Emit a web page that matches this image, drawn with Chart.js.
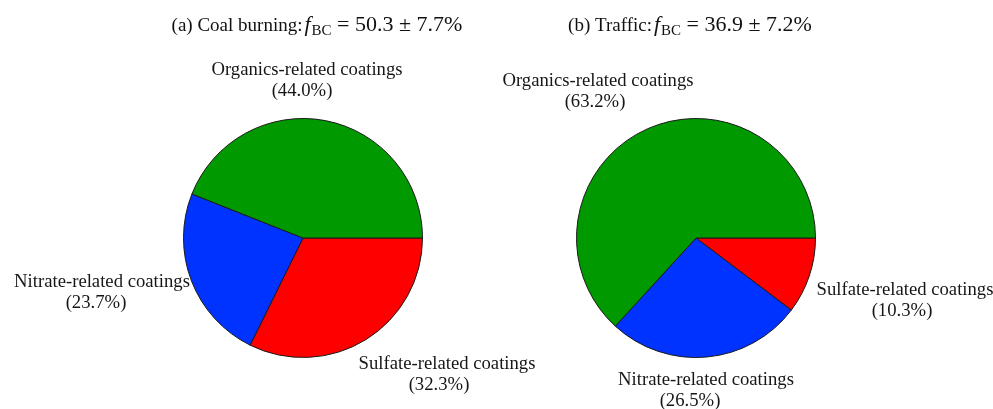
<!DOCTYPE html>
<html>
<head>
<meta charset="utf-8">
<script src="https://cdn.jsdelivr.net/npm/chart.js@4.4.1/dist/chart.umd.min.js"></script>
<style>
  html, body { margin: 0; padding: 0; background: #ffffff; }
  #wrap { position: relative; width: 993px; height: 409px; }
  #wrap canvas { position: absolute; left: 0; top: 0; }
</style>
</head>
<body>
<div id="wrap">
  <canvas id="coal" width="993" height="409"></canvas>
  <canvas id="traffic" width="993" height="409"></canvas>
</div>
<script>
// Coating categories, listed clockwise starting from 3 o'clock
const categories = ['Sulfate-related coatings', 'Nitrate-related coatings', 'Organics-related coatings'];
const sliceColors = ['#ff0000', '#0033ff', '#009900'];

// Share of each coating type (%)
const coalShares = [32.3, 23.7, 44.0];
const trafficShares = [10.3, 26.5, 63.2];

// Black-carbon fraction for each source (mean, sd, %)
const coalFbc = [50.3, 7.7];
const trafficFbc = [36.9, 7.2];

const SERIF = '"Liberation Serif", "Times New Roman", serif';

function drawTitle(ctx, cx, baseline, prefix, fbc) {
  const parts = [
    { t: prefix, f: '19px ' + SERIF, dy: 0, gap: 2 },
    { t: 'f', f: 'italic 22px ' + SERIF, dy: 0, gap: 1 },
    { t: 'BC', f: '15px ' + SERIF, dy: 4, gap: 0 },
    { t: ' = ' + fbc[0].toFixed(1) + ' \u00b1 ' + fbc[1].toFixed(1) + '%', f: '22px ' + SERIF, dy: 0, gap: 0 }
  ];
  let total = 0;
  parts.forEach(p => { ctx.font = p.f; p.w = ctx.measureText(p.t).width + p.gap; total += p.w; });
  let x = cx - total / 2;
  ctx.fillStyle = '#111111';
  ctx.textAlign = 'left';
  ctx.textBaseline = 'alphabetic';
  parts.forEach(p => { ctx.font = p.f; ctx.fillText(p.t, x, baseline + p.dy); x += p.w; });
}

// Draws the title and the slice captions for one pie
const captionPlugin = {
  id: 'captions',
  afterDraw(chart, args, opts) {
    const ctx = chart.ctx;
    const values = chart.data.datasets[0].data;
    ctx.save();
    drawTitle(ctx, opts.titleX, 31, opts.prefix, opts.fbc);
    ctx.fillStyle = '#161616';
    ctx.font = '18.7px ' + SERIF;
    ctx.textAlign = 'center';
    ctx.textBaseline = 'middle';
    opts.places.forEach((p, i) => {
      ctx.fillText(chart.data.labels[i], p.x, p.y);
      ctx.fillText('(' + values[i].toFixed(1) + '%)', p.x2, p.y + 21);
    });
    ctx.restore();
  }
};

function makePie(id, shares, padding, captions) {
  return new Chart(document.getElementById(id), {
    type: 'pie',
    data: {
      labels: categories,
      datasets: [{
        data: shares,
        backgroundColor: sliceColors,
        borderColor: '#1a1a1a',
        borderWidth: 1
      }]
    },
    options: {
      responsive: false,
      animation: false,
      rotation: 90,
      layout: { padding: padding },
      events: [],
      plugins: {
        legend: { display: false },
        tooltip: { enabled: false },
        captions: captions
      }
    },
    plugins: [captionPlugin]
  });
}

makePie('coal', coalShares,
  { left: 183, right: 570, top: 118, bottom: 51 },
  {
    titleX: 317, prefix: '(a) Coal burning:', fbc: coalFbc,
    places: [
      { x: 447, y: 364, x2: 439 },
      { x: 102, y: 282, x2: 96 },
      { x: 307, y: 70, x2: 302 }
    ]
  });

makePie('traffic', trafficShares,
  { left: 576, right: 177, top: 118, bottom: 51 },
  {
    titleX: 690, prefix: '(b) Traffic:', fbc: trafficFbc,
    places: [
      { x: 905, y: 290, x2: 902 },
      { x: 706, y: 380, x2: 690 },
      { x: 598, y: 81, x2: 595 }
    ]
  });
</script>
</body>
</html>
